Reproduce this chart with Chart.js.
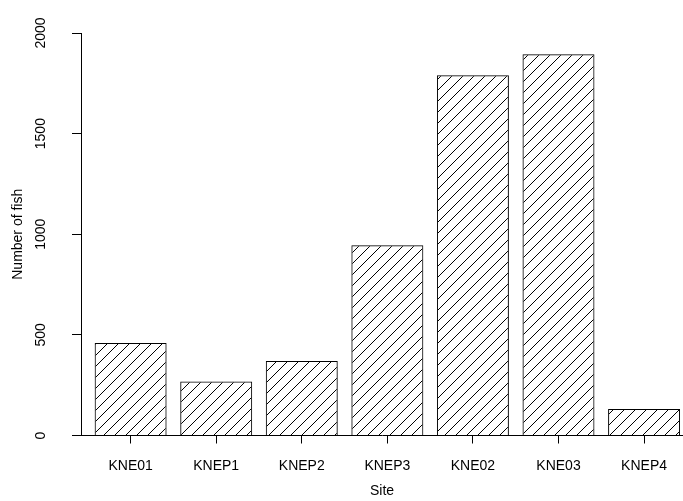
<!DOCTYPE html>
<html>
<head>
<meta charset="utf-8">
<script src="https://cdn.jsdelivr.net/npm/chart.js@4"></script>
<style>
  html, body { margin: 0; padding: 0; background: #fff; }
  #wrap { width: 683px; height: 501px; }
</style>
</head>
<body>
<div id="wrap"><canvas id="bar-chart"></canvas></div>
<script>
// data
var sites = ["KNE01", "KNEP1", "KNEP2", "KNEP3", "KNE02", "KNE03", "KNEP4"];
var fishCount = [460, 268, 370, 945, 1790, 1895, 132];
var yTicks = [0, 500, 1000, 1500, 2000];

var FONT = "'Liberation Sans', Arial, Helvetica, sans-serif";
var SIZE = 14;

// diagonal hatch like R's density lines
function hatch(){
    var s = 11;
    var c = document.createElement("canvas");
    c.width = s; c.height = s;
    var g = c.getContext("2d");
    g.strokeStyle = "#000";
    g.lineWidth = 1;
    g.beginPath();
    g.moveTo(0, s); g.lineTo(s, 0);
    g.moveTo(-1, 1); g.lineTo(1, -1);
    g.moveTo(s - 1, s + 1); g.lineTo(s + 1, s - 1);
    g.stroke();
    return g.createPattern(c, "repeat");
}

var points = [];
for (let i = 0; i < sites.length; i++) {
    points.push({ x: i + 1, y: fishCount[i] });
}

// y tick labels are vertical in the original, so draw them ourselves
var yLabels = {
    id: "yLabels",
    afterDraw(chart){
        var ctx = chart.ctx;
        var ys = chart.scales.y;
        ctx.save();
        ctx.fillStyle = "#000";
        ctx.font = SIZE + "px " + FONT;
        ctx.textAlign = "center";
        ctx.textBaseline = "middle";
        for (let i = 0; i < yTicks.length; i++) {
            var py = ys.getPixelForValue(yTicks[i]);
            ctx.save();
            ctx.translate(41, py);
            ctx.rotate(-Math.PI / 2);
            ctx.fillText(String(yTicks[i]), 0, 0);
            ctx.restore();
        }
        ctx.restore();
    }
};

new Chart(document.getElementById("bar-chart"), {
    type: "bar",
    data: {
        datasets: [{
            data: points,
            backgroundColor: hatch(),
            borderColor: "#000",
            borderWidth: 1,
            barPercentage: 0.841,
            categoryPercentage: 1
        }]
    },
    options: {
        responsive: true,
        maintainAspectRatio: false,
        animation: false,
        layout: { padding: { top: 33, right: 0, bottom: 0, left: 0 } },
        plugins: { legend: { display: false }, tooltip: { enabled: false } },
        scales: {
            x: {
                type: "linear",
                offset: false,
                min: 0.42,
                max: 7.455,
                afterBuildTicks(scale){
                    scale.ticks = sites.map((s, i) => ({ value: i + 1 }));
                },
                afterFit(scale){ scale.height = 65.5; },
                ticks: {
                    color: "#000",
                    font: { family: FONT, size: SIZE },
                    padding: 14,
                    maxRotation: 0,
                    autoSkip: false,
                    callback: (v, i) => sites[i]
                },
                grid: { offset: false, drawOnChartArea: false, color: "#000", tickLength: 8 },
                border: { color: "#000", width: 1 },
                title: {
                    display: true,
                    text: "Site",
                    color: "#000",
                    font: { family: FONT, size: SIZE },
                    padding: { top: 0, bottom: 1 }
                }
            },
            y: {
                min: 0,
                max: 2000,
                afterBuildTicks(scale){
                    scale.ticks = yTicks.map(v => ({ value: v }));
                },
                afterFit(scale){ scale.width = 81; },
                ticks: { display: false },
                grid: { drawOnChartArea: false, color: "#000", tickLength: 9 },
                border: { color: "#000", width: 1 },
                title: {
                    display: true,
                    text: "Number of fish",
                    color: "#000",
                    font: { family: FONT, size: SIZE },
                    padding: { top: 10, bottom: 0 }
                }
            }
        }
    },
    plugins: [yLabels]
});
</script>
</body>
</html>
